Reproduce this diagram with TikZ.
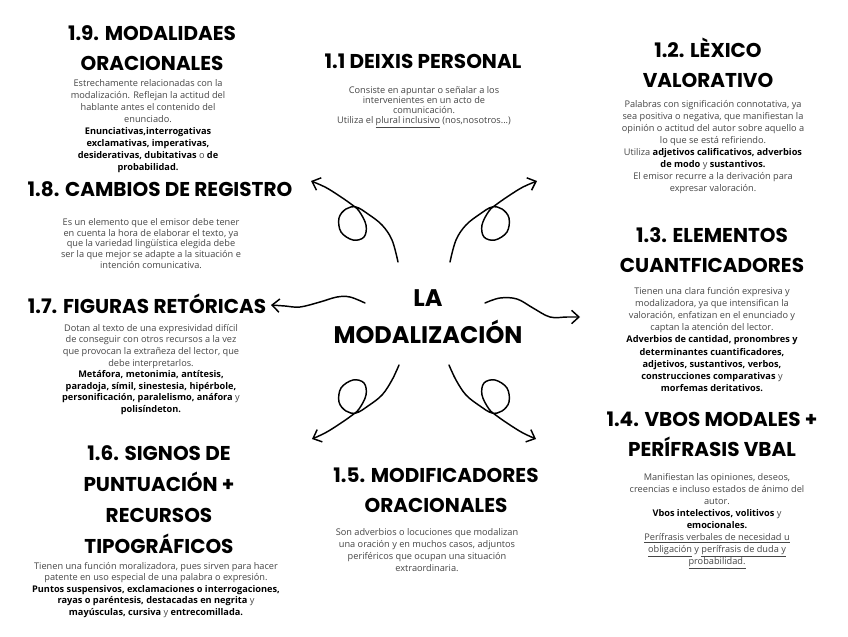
\documentclass[tikz,border=0pt]{standalone}
\usepackage{fontspec}
\setmainfont{Open Sans}
\newfontfamily\titlefont{Poppins}
\usetikzlibrary{arrows.meta}
\definecolor{bodygray}{RGB}{70,70,70}
\newcommand\bkb[1]{\textcolor{black}{\bfseries #1}}
\begin{document}
\begin{tikzpicture}[x=0.75pt,y=-0.75pt,
  ttl/.style={font=\titlefont\bfseries\fontsize{15}{#1}\selectfont, align=center, inner sep=0pt},
  ttl/.default=22.5,
  body/.style={text=bodygray, align=center, inner sep=0pt, font=\fontsize{6.9}{#1}\selectfont},
  body/.default=9,
  curl/.style={line width=1.1pt, -{Straight Barb[length=5.5pt,width=10pt]}, line cap=round, line join=round}
]
\fill[white] (0,0) rectangle (848,636);
\useasboundingbox (0,0) rectangle (848,636);

% centre
\node[ttl=27.75, font=\titlefont\bfseries\fontsize{18}{27.75}\selectfont] (center) at (428,316.5) {LA\\MODALIZACIÓN};

% titles
\node[ttl] (t19) at (152,48) {1.9. MODALIDAES\\ORACIONALES};
\node[ttl] (t11) at (423,61) {1.1 DEIXIS PERSONAL};
\node[ttl] (t12) at (708,63) {1.2. LÈXICO\\VALORATIVO};
\node[ttl] (t18) at (160,189) {1.8. CAMBIOS DE REGISTRO};
\node[ttl] (t17) at (147,304) {1.7. FIGURAS RETÓRICAS};
\node[ttl] (t13) at (712,250) {1.3. ELEMENTOS\\CUANTFICADORES};
\node[ttl] (t14) at (712,434.5) {1.4. VBOS MODALES +\\PERÍFRASIS VBAL};
\node[ttl=23.25] (t16) at (159,500) {1.6. SIGNOS DE\\PUNTUACIÓN +\\RECURSOS\\TIPOGRÁFICOS};
\node[ttl] (t15) at (436,490) {1.5. MODIFICADORES\\ORACIONALES};

% bodies
\node[body=9] (b19) at (148,126) {Estrechamente relacionadas con la\\
modalización. Reflejan la actitud del\\
hablante antes el contenido del\\
enunciado.\\
\bkb{Enunciativas,interrogativas}\\
\bkb{exclamativas, imperativas,}\\
\bkb{desiderativas, dubitativas} o \bkb{de}\\
\bkb{probabilidad.}};

\node[body=7.4] (b11) at (424,107.5) {Consiste en apuntar o señalar a los\\
intervenientes en un acto de\\
comunicación.\\
Utiliza el \underline{plural inclusivo} (nos,nosotros...)};

\node[body=9] (b12) at (713,147) {Palabras con significación connotativa, ya\\
sea positiva o negativa, que manifiestan la\\
opinión o actitud del autor sobre aquello a\\
lo que se está refiriendo.\\
Utiliza \bkb{adjetivos calificativos, adverbios}\\
\bkb{de modo} y \bkb{sustantivos.}\\
El emisor recurre a la derivación para\\
expresar valoración.};

\node[body=8.1] (b18) at (151,243.5) {Es un elemento que el emisor debe tener\\
en cuenta la hora de elaborar el texto, ya\\
que la variedad lingüística elegida debe\\
ser la que mejor se adapte a la situación e\\
intención comunicativa.};

\node[body=8.7] (b17) at (151,369.5) {Dotan al texto de una expresividad difícil\\
de conseguir con otros recursos a la vez\\
que provocan la extrañeza del lector, que\\
debe interpretarlos.\\
\bkb{Metáfora, metonimia, antítesis,}\\
\bkb{paradoja, símil, sinestesia, hipérbole,}\\
\bkb{personificación, paralelismo, anáfora} y\\
\bkb{polisíndeton.}};

\node[body=9.1] (b13) at (712,339.5) {Tienen una clara función expresiva y\\
modalizadora, ya que intensifican la\\
valoración, enfatizan en el enunciado y\\
captan la atención del lector.\\
\bkb{Adverbios de cantidad, pronombres y}\\
\bkb{determinantes cuantificadores,}\\
\bkb{adjetivos, sustantivos, verbos,}\\
\bkb{construcciones comparativas} y\\
\bkb{morfemas deritativos.}};

\node[body=9] (b14) at (717,521) {Manifiestan las opiniones, deseos,\\
creencias e incluso estados de ánimo del\\
autor.\\
\bkb{Vbos intelectivos, volitivos} y\\
\bkb{emocionales.}\\
\underline{Perífrasis verbales de necesidad u}\\
\underline{obligación} y \underline{perífrasis de duda y}\\
\underline{probabilidad.}};

\node[body=8.6] (b16) at (156,590) {Tienen una función moralizadora, pues sirven para hacer\\
patente en uso especial de una palabra o expresión.\\
\bkb{Puntos suspensivos, exclamaciones o interrogaciones,}\\
\bkb{rayas o paréntesis, destacadas en negrita} y\\
\bkb{mayúsculas, cursiva} y \bkb{entrecomillada.}};

\node[body=9] (b15) at (427,550) {Son adverbios o locuciones que modalizan\\
una oración y en muchos casos, adjuntos\\
periféricos que ocupan una situación\\
extraordinaria.};

% arrow end points
\coordinate (tlT) at (398,262); \coordinate (tlH) at (311,181);
\coordinate (trT) at (450,262); \coordinate (trH) at (537,181);
\coordinate (blT) at (399,365); \coordinate (blH) at (312,439);
\coordinate (brT) at (449,365); \coordinate (brH) at (536,439);
\coordinate (lT) at (365,303);  \coordinate (lH) at (271,305);
\coordinate (rT) at (485,303);  \coordinate (rH) at (580,317);

% curly arrows
\draw[curl] plot[smooth, tension=0.6] coordinates {(tlT) (392,240) (382,225) (368,214) (356,207) (346,209) (339,218) (341,232) (353,240) (364,237) (366,225) (359,211) (351,204) (338,195) (325,187) (tlH)};
\draw[curl] plot[smooth, tension=0.6] coordinates {(trT) (456,240) (466,225) (480,214) (492,207) (502,209) (509,218) (507,232) (495,240) (484,237) (482,225) (489,211) (497,204) (510,195) (523,187) (trH)};
\draw[curl] plot[smooth, tension=0.6] coordinates {(blT) (392,380) (382,395) (368,406) (356,413) (346,411) (339,402) (341,388) (353,380) (364,383) (366,395) (359,409) (351,416) (338,425) (325,433) (blH)};
\draw[curl] plot[smooth, tension=0.6] coordinates {(brT) (456,380) (466,395) (480,406) (492,413) (502,411) (509,402) (507,388) (495,380) (484,383) (482,395) (489,409) (497,416) (510,425) (523,433) (brH)};

% wavy arrows
\draw[curl] plot[smooth, tension=0.6] coordinates {(lT) (350,297) (337,297) (320,302) (300,307) (285,306) (lH)};
\draw[curl] plot[smooth, tension=0.6] coordinates {(rT) (500,298) (517,299) (533,308) (550,317) (567,317) (rH)};
\end{tikzpicture}
\end{document}
